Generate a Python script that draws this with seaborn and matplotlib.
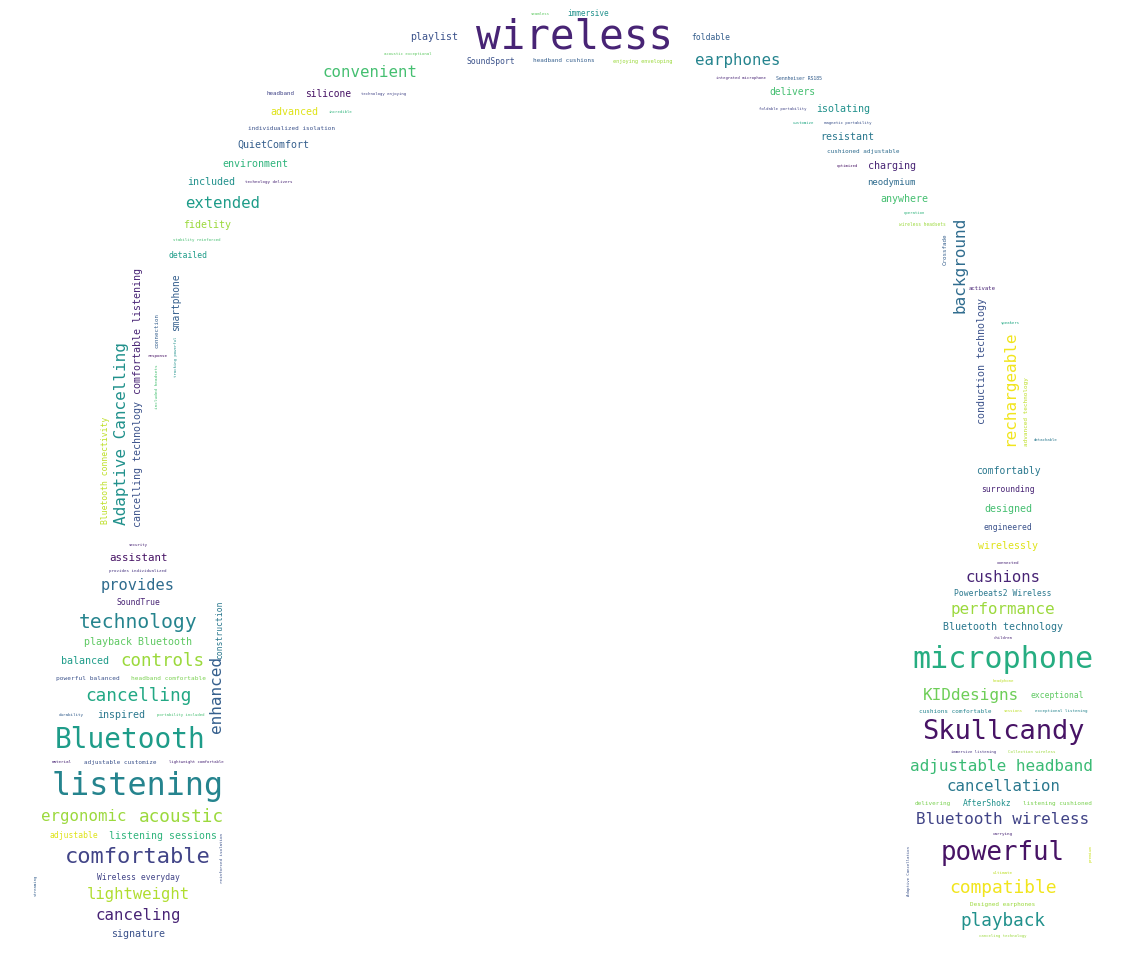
import numpy as np
import matplotlib.pyplot as plt
import seaborn as sns

# word cloud of headphone review terms in the shape of a pair of headphones
# every section is a list of rows (or columns) of words
# freq = font size of the word in px, tone = position on the viridis map

crown_words = [["seamless", "immersive"],
               ["playlist", "wireless", "foldable"],
               ["SoundSport", "headband cushions", "enjoying enveloping"]]
crown_freq = [[4, 7.8], [10, 41, 8], [8, 6, 5.3]]
crown_tone = [[0.75, 0.5], [0.25, 0.1, 0.3], [0.25, 0.3, 0.85]]

left_arm_words = [["acoustic exceptional"], ["convenient"],
                  ["headband", "silicone", "technology enjoying"],
                  ["advanced", "incredible"], ["individualized isolation"],
                  ["QuietComfort"], ["environment"],
                  ["included", "technology delivers"], ["extended"],
                  ["fidelity"], ["stability reinforced"], ["detailed"]]
left_arm_freq = [[4], [15.7], [5.9, 9.7, 3.9], [10, 3.9], [6], [10], [10],
                 [10, 4.1], [15.6], [10], [4], [8]]
left_arm_tone = [[0.75], [0.7], [0.2, 0.05, 0.2], [0.95, 0.65], [0.25], [0.3],
                 [0.65], [0.5, 0.1], [0.55], [0.85], [0.7], [0.55]]

right_arm_words = [["earphones"], ["integrated microphone", "Sennheiser RS185"],
                   ["delivers"], ["foldable portability", "isolating"],
                   ["customize", "magnetic portability"], ["resistant"],
                   ["cushioned adjustable"], ["optimized", "charging"],
                   ["neodymium"], ["anywhere"], ["operation"],
                   ["wireless headsets"]]
right_arm_freq = [[15.7], [3.9, 4.9], [9.7], [3.9, 10], [3.9, 4], [10], [6],
                  [3.9, 10], [9], [10], [4], [4.5]]
right_arm_tone = [[0.45], [0.1, 0.3], [0.7], [0.2, 0.5], [0.6, 0.25], [0.4],
                  [0.35], [0.05, 0.1], [0.35], [0.7], [0.65], [0.85]]

# columns of (mostly upright) words down the two sides of the band
left_stack_words = [["Bluetooth connectivity"], ["Adaptive Cancelling"],
                    ["comfortable listening", "cancelling technology"],
                    ["connection", "response", "included headsets"],
                    ["smartphone", "tracking powerful"]]
left_stack_freq = [[8.2], [16], [10, 10], [5.8, 4.2, 4.4], [9.7, 3.9]]
left_stack_tone = [[0.9], [0.5], [0.1, 0.25], [0.3, 0.05, 0.7], [0.3, 0.5]]

right_stack_words = [["Crossfade"], ["background"]]
right_stack_freq = [[5.9], [16]]
right_stack_tone = [[0.3], [0.35]]

right_low_stack_words = [["activate", "conduction technology"],
                         ["speakers", "rechargeable"], ["advanced technology"],
                         ["detachable"]]
right_low_stack_freq = [[5.7, 10], [4, 16], [6], [4]]
right_low_stack_tone = [[0.1, 0.25], [0.6, 0.98], [0.9], [0.4]]

right_low_words = [["comfortably"], ["surrounding"], ["designed"], ["engineered"],
                   ["wirelessly"], ["connected"]]
right_low_freq = [[9.8], [8], [10], [8], [10], [4.2]]
right_low_tone = [[0.4], [0.1], [0.7], [0.25], [0.95], [0.1]]

left_cup_words = [["security"], ["assistant"], ["provides individualized"],
                  ["provides"], ["SoundTrue", "construction"], ["technology"],
                  ["playback Bluetooth"], ["balanced", "controls", "enhanced"],
                  ["powerful balanced", "headband comfortable"], ["cancelling"],
                  ["durability", "inspired", "portability included"],
                  ["Bluetooth"],
                  ["material", "adjustable customize", "lightweight comfortable"],
                  ["listening"], ["ergonomic", "acoustic"],
                  ["adjustable", "listening sessions", "reinforced isolation"],
                  ["comfortable"], ["streaming", "Wireless everyday"],
                  ["lightweight"], ["canceling"], ["signature"]]
left_cup_freq = [[4], [10.7], [4.1], [15.4], [8, 8], [19.7], [10],
                 [10, 17.5, 16], [6.2, 6.1], [17.8], [4.3, 10, 4], [27.8],
                 [4.3, 6, 4], [31.8], [15.7, 17.7], [8, 9.9, 4.2], [22],
                 [3.9, 8], [15.6], [15.7], [10]]
left_cup_tone = [[0.1], [0.05], [0.15], [0.35], [0.1, 0.4], [0.45], [0.75],
                 [0.55, 0.85, 0.3], [0.25, 0.8], [0.6], [0.3, 0.4, 0.7], [0.55],
                 [0.1, 0.25, 0.1], [0.45], [0.85, 0.85], [0.95, 0.65, 0.25],
                 [0.2], [0.3, 0.2], [0.88], [0.1], [0.25]]

right_cup_words = [["cushions"], ["Powerbeats2 Wireless"], ["performance"],
                   ["Bluetooth technology"], ["children"], ["microphone"],
                   ["headphone"], ["KIDdesigns", "exceptional"],
                   ["cushions comfortable", "sessions", "exceptional listening"],
                   ["Skullcandy"], ["immersive listening", "Collection wireless"],
                   ["adjustable headband"], ["cancellation"],
                   ["delivering", "AfterShokz", "listening cushioned"],
                   ["Bluetooth wireless"], ["carrying"],
                   ["Adaptive Cancellation", "powerful", "premium"],
                   ["ultimate"], ["compatible"], ["Designed earphones"],
                   ["playback"], ["canceling technology"]]
right_cup_freq = [[15.6], [8], [15.9], [10], [4], [30], [4], [16, 8],
                  [6, 4, 4.1], [27], [3.9, 4.1], [16], [15.8], [6, 8, 6], [16],
                  [4.2], [4, 25.7, 4], [4.2], [17.9], [6], [17.7], [3.9]]
right_cup_tone = [[0.1], [0.4], [0.85], [0.4], [0.1], [0.62], [0.9], [0.78, 0.75],
                  [0.45, 0.9, 0.45], [0.05], [0.15, 0.85], [0.68], [0.4],
                  [0.8, 0.5, 0.8], [0.2], [0.1], [0.25, 0.05, 0.92], [0.9],
                  [0.98], [0.85], [0.5], [0.85]]

upright_words = {"construction", "enhanced", "reinforced isolation", "streaming",
                 "Adaptive Cancellation", "premium", "Bluetooth connectivity",
                 "Adaptive Cancelling", "comfortable listening",
                 "cancelling technology", "connection", "included headsets",
                 "smartphone", "tracking powerful", "Crossfade", "background",
                 "conduction technology", "rechargeable", "advanced technology"}

sns.set_theme(style="white")
cmap = sns.color_palette("viridis", as_cmap=True)

fig = plt.figure(figsize=(11.37, 9.66), dpi=100)
ax = fig.add_axes([0, 0, 1, 1])
ax.set_xlim(0, 1137)
ax.set_ylim(966, 0)
ax.axis("off")

# centre line of the headband is half an ellipse
band_cx, band_cy, band_a, band_b = 568, 560, 460, 540


def band_x(y, side):
    return band_cx + side * band_a * np.sqrt(max(0.0, 1 - ((band_cy - y) / band_b) ** 2))


def word_len(w, f):
    return len(w) * 0.602 * f


def put(x, y, w, f, t, upright):
    ax.text(x, y, w, fontsize=f * 0.72, color=cmap(t), family="DejaVu Sans Mono",
            ha="center", va="center", rotation=90 if upright else 0)


def lay_rows(words, freq, tone, y0, y1, centre, gap=12, edges=(-1e9, 1e9), pad=3):
    heights = []
    for row, fr in zip(words, freq):
        hs = [f for w, f in zip(row, fr) if w not in upright_words]
        heights.append(max(hs) if hs else 4)
    n = len(heights)
    inner = sum((heights[i] + heights[i + 1]) / 2 for i in range(n - 1))
    step = (y1 - y0 - inner) / max(n - 1, 1)
    hanging = []  # upright words hanging down the edge: (side, inner x, bottom y)
    y = y0
    for i, (row, fr, tn) in enumerate(zip(words, freq, tone)):
        if i:
            y += (heights[i - 1] + heights[i]) / 2 + step
        h = heights[i]
        first = next(k for k, w in enumerate(row) if w not in upright_words)
        for k, (w, f, t) in enumerate(zip(row, fr, tn)):
            if w in upright_words:
                top = y - 0.3 * h
                L = word_len(w, f)
                if k < first:
                    put(edges[0] + f / 2, top + L / 2, w, f, t, True)
                    hanging.append((-1, edges[0] + f, top + L))
                else:
                    put(edges[1] - f / 2, top + L / 2, w, f, t, True)
                    hanging.append((1, edges[1] - f, top + L))
        lo, hi = edges
        for side, xe, yb in hanging:
            if yb > y - h / 2:
                if side < 0:
                    lo = max(lo, xe + pad)
                else:
                    hi = min(hi, xe - pad)
        flat = [(w, f, t) for w, f, t in zip(row, fr, tn) if w not in upright_words]
        total = sum(word_len(w, f) for w, f, _ in flat) + gap * (len(flat) - 1)
        x = centre(y) - total / 2
        if total > hi - lo:
            x = (lo + hi - total) / 2
        elif x < lo:
            x = lo
        elif x + total > hi:
            x = hi - total
        for w, f, t in flat:
            L = word_len(w, f)
            put(x + L / 2, y, w, f, t, False)
            x += L + gap


def lay_columns(words, freq, tone, xc, ya, yb, gap=4, sep=6):
    def extent(w, f):
        return (f, word_len(w, f)) if w in upright_words else (word_len(w, f), f)

    widths = [max(extent(w, f)[0] for w, f in zip(col, fr)) for col, fr in zip(words, freq)]
    x = xc - (sum(widths) + gap * (len(widths) - 1)) / 2
    n = len(words)
    for k, (col, fr, tn) in enumerate(zip(words, freq, tone)):
        cy = ya + (yb - ya) * k / max(n - 1, 1)
        hs = [extent(w, f)[1] for w, f in zip(col, fr)]
        y = cy - (sum(hs) + sep * (len(hs) - 1)) / 2
        mx = x + widths[k] / 2
        for w, f, t, h in zip(col, fr, tn, hs):
            put(mx, y + h / 2, w, f, t, w in upright_words)
            y += h + sep
        x += widths[k] + gap


lay_rows(crown_words, crown_freq, crown_tone, 14, 61, lambda y: 570, gap=18)
lay_rows(left_arm_words, left_arm_freq, left_arm_tone, 54, 255,
         lambda y: band_x(y, -1), gap=10)
lay_rows(right_arm_words, right_arm_freq, right_arm_tone, 61, 224,
         lambda y: band_x(y, 1) - 6, gap=10)
lay_columns(left_stack_words, left_stack_freq, left_stack_tone, 141, 470, 325)
lay_columns(right_stack_words, right_stack_freq, right_stack_tone, 955, 249, 265)
lay_columns(right_low_stack_words, right_low_stack_freq, right_low_stack_tone,
            1013, 355, 440)
lay_rows(right_low_words, right_low_freq, right_low_tone, 471, 563, lambda y: 1008)
lay_rows(left_cup_words, left_cup_freq, left_cup_tone, 545, 934,
         lambda y: 138, gap=12, edges=(34, 224))
lay_rows(right_cup_words, right_cup_freq, right_cup_tone, 577, 936,
         lambda y: 1003, gap=12, edges=(907, 1093))

fig.savefig("out.png", dpi=100, facecolor="white")
